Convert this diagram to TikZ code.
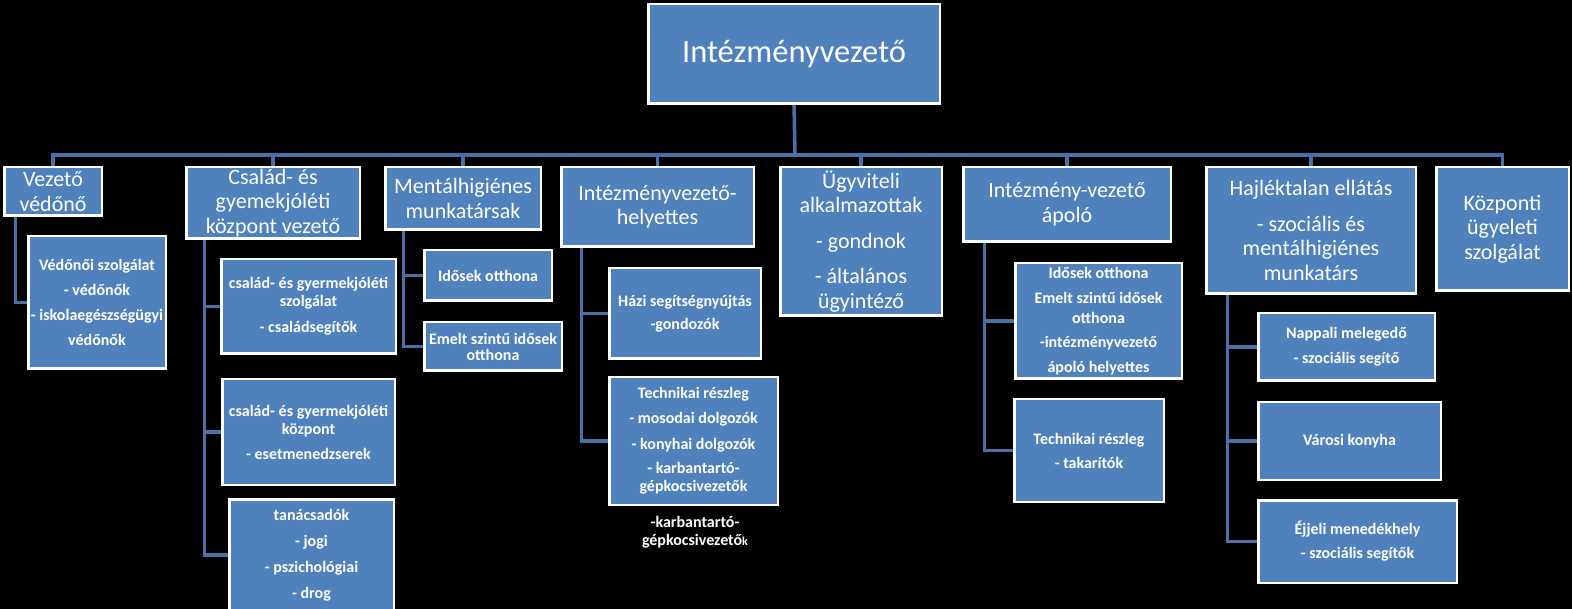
\documentclass[tikz,border=0pt]{standalone}
\usepackage{fontspec}
\setmainfont{Carlito}
\definecolor{boxblue}{HTML}{4F81BD}
\definecolor{conncol}{HTML}{4A70A8}
\pgfdeclarelayer{back}
\pgfdeclarelayer{bg}
\pgfsetlayers{back,bg,main}
\tikzset{
 box/.style={draw=white, line width=2.5pt, fill=boxblue, text=white, inner sep=0pt, outer sep=0pt, align=center},
 conn/.style={draw=conncol, line width=3.5pt},
 lvzero/.style={font=\fontsize{32.5}{38}\selectfont},
 lvone/.style={font=\fontsize{22}{24.5}\selectfont},
 lvtwo/.style={font=\fontsize{16}{18}\selectfont\bfseries},
}
\newcommand{\orgbox}[7]{\node[box,#1,minimum width={#5-#3-2.5},minimum height={#6-#4-2.5}] (#2) at ({(#3+#5)/2},{(#4+#6)/2}) {#7};}
\begin{document}
\begin{tikzpicture}[x=1pt,y=-1pt]
\begin{pgfonlayer}{back}
\fill[black] (0,0) rectangle (1572,609);
\end{pgfonlayer}
\useasboundingbox (0,0) rectangle (1572,609);

\orgbox{lvzero}{top}{647}{3}{941}{105}{Intézményvezető}

\orgbox{lvone}{a}{3}{166}{103}{217}{Vezető\\védőnő}
\orgbox{lvone}{b}{185}{166}{361}{240}{Család- és\\gyemekjóléti\\központ vezető}
\orgbox{lvone}{c}{384}{166}{542}{231}{Mentálhigiénes\\munkatársak}
\orgbox{lvone}{d}{560}{166}{755}{248}{Intézményvezető-\\helyettes}
\orgbox{lvone}{e}{779}{166}{943}{317}{Ügyviteli\\alkalmazottak\\[11pt]- gondnok\\[11pt]- általános\\ügyintéző}
\orgbox{lvone}{f}{962}{166}{1172}{243}{Intézmény-vezető\\ápoló}
\orgbox{lvone}{g}{1205}{166}{1417}{295}{Hajléktalan ellátás\\[11pt]- szociális és\\mentálhigiénes\\munkatárs}
\orgbox{lvone}{h}{1435}{166}{1570}{292}{Központi\\ügyeleti\\szolgálat}

\orgbox{lvtwo}{a1}{27}{235}{167}{370}{Védőnői szolgálat\\[7pt]- védőnők\\[7pt]- iskolaegészségügyi\\[7pt]védőnők}
\orgbox{lvtwo}{b1}{220}{258}{397}{355}{család- és gyermekjóléti\\szolgálat\\[8pt]- családsegítők}
\orgbox{lvtwo}{b2}{221}{378}{396}{486}{család- és gyermekjóléti\\központ\\[7pt]- esetmenedzserek}
\orgbox{lvtwo}{b3}{228}{498}{395}{612}{tanácsadók\\[8pt]- jogi\\[8pt]- pszichológiai\\[8pt]- drog}
\orgbox{lvtwo}{c1}{423}{249}{553}{302}{Idősek otthona}
\orgbox{lvtwo}{c2}{423}{321}{563}{372}{Emelt szintű idősek\\[-2pt]otthona}
\orgbox{lvtwo}{d1}{608}{267}{762}{360}{Házi segítségnyújtás\\[5pt]-gondozók}
\orgbox{lvtwo}{d2}{608}{376}{779}{506}{Technikai részleg\\[7pt]- mosodai dolgozók\\[8pt]- konyhai dolgozók\\[6pt]- karbantartó-\\gépkocsivezetők}
\orgbox{lvtwo}{f1}{1014}{262}{1183}{380}{Idősek otthona\\[7pt]Emelt szintű idősek\\[2pt]otthona\\[6pt]-intézményvezető\\[7pt]ápoló helyettes}
\orgbox{lvtwo}{f2}{1013}{398}{1165}{503}{Technikai részleg\\[6pt]- takarítók}
\orgbox{lvtwo}{g1}{1257}{312}{1436}{382}{Nappali melegedő\\[7pt]- szociális segítő}
\orgbox{lvtwo}{g2}{1257}{401}{1442}{481}{Városi konyha}
\orgbox{lvtwo}{g3}{1257}{499}{1458}{584}{Éjjeli menedékhely\\[6pt]- szociális segítők}

\node[lvtwo, text=white, align=center, inner sep=0pt] (extra) at (695,532) {-karbantartó-\\gépkocsivezető{\fontsize{12}{13}\selectfont k}};

\begin{pgfonlayer}{bg}
\coordinate (bus) at (795,155);
\draw[conn] (top.south) -- (bus);
\foreach \n in {a,b,c,d,e,f,g,h}{\draw[conn] (bus) -| (\n.north);}
\draw[conn] ([xshift=11pt]a.south west) |- (a1.west);
\foreach \n in {b1,b2,b3}{\draw[conn] ([xshift=18pt]b.south west) |- (\n.west);}
\foreach \n in {c1,c2}{\draw[conn] ([xshift=18pt]c.south west) |- (\n.west);}
\foreach \n in {d1,d2}{\draw[conn] ([xshift=20pt]d.south west) |- (\n.west);}
\foreach \n in {f1,f2}{\draw[conn] ([xshift=21pt]f.south west) |- (\n.west);}
\foreach \n in {g1,g2,g3}{\draw[conn] ([xshift=21pt]g.south west) |- (\n.west);}
\end{pgfonlayer}
\end{tikzpicture}
\end{document}
